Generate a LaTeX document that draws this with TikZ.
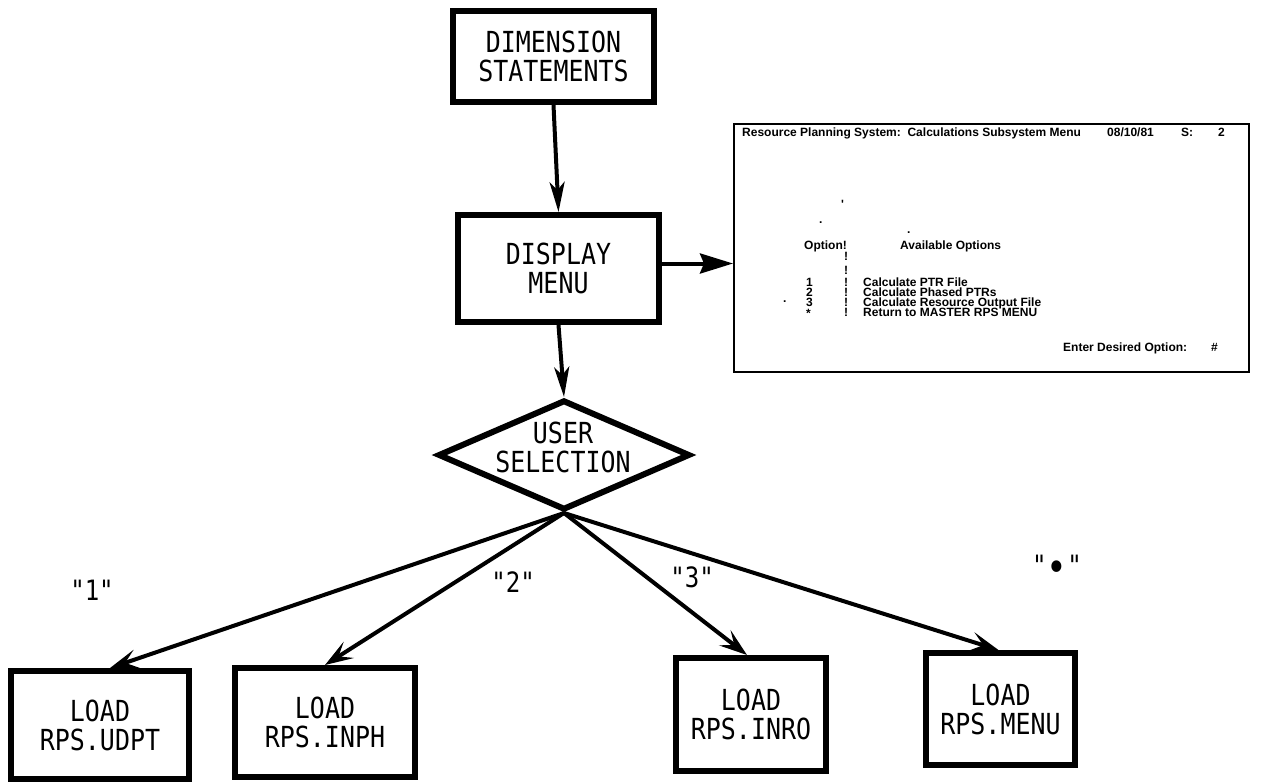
\documentclass[tikz,border=0pt]{standalone}
\usepackage{fontspec}
\usetikzlibrary{arrows.meta,shapes.geometric}
\newfontfamily\gfont[FakeStretch=0.86]{DejaVu Sans Mono}
\newfontfamily\scrfont{Liberation Sans}
\begin{document}
\begin{tikzpicture}[x=1pt,y=-1pt,
  boxn/.style={draw, line width=6pt, rectangle, inner sep=0pt, align=center,
    font=\gfont\fontsize{29}{29}\selectfont},
  diam/.style={draw, line width=6pt, diamond, aspect=2.3, inner sep=0pt,
    minimum width=252pt, minimum height=110pt},
  gtext/.style={inner sep=0pt, align=center, font=\gfont\fontsize{29}{29}\selectfont},
  lab/.style={inner sep=0pt, font=\gfont\fontsize{28}{28}\selectfont},
  scr/.style={inner sep=0pt, anchor=west, text height=8.5pt, text depth=0pt,
    font=\scrfont\bfseries\fontsize{12}{12}\selectfont},
  varr/.style={line width=4pt, -{Stealth[length=30pt,width=15pt,inset=8pt]}},
  darr/.style={line width=4pt, -{Stealth[length=28pt,width=19pt,inset=12pt]}},
  farr/.style={line width=4pt, -{Stealth[length=33pt,width=20pt,inset=4pt]}}
]
\fill[white] (0,0) rectangle (1263,784);
\useasboundingbox (0,0) rectangle (1263,784);

% main boxes
\node[boxn, minimum width=201pt, minimum height=91pt] (dim) at (553.5,56.5) {DIMENSION\\STATEMENTS};
\node[boxn, minimum width=201pt, minimum height=107pt] (disp) at (558.5,268.5) {DISPLAY\\MENU};
\node[diam] (sel) at (564,455) {};
\node[gtext] (seltext) at (563,447) {USER\\SELECTION};

% screen
\node[draw, line width=2pt, rectangle, inner sep=0pt, minimum width=515pt, minimum height=248pt] (screen) at (991.5,248) {};
\node[scr] (t1) at (742,132) {Resource Planning System:\ \ Calculations Subsystem Menu};
\node[scr] (t2) at (1107,132) {08/10/81};
\node[scr] (t3) at (1181,132) {S:};
\node[scr] (t4) at (1218,132) {2};
\node[scr] (m1) at (841,204) {'};
\node[scr] (m2) at (819,219) {.};
\node[scr] (m3) at (907,229) {.};
\node[scr] (h1) at (804,245) {Option!};
\node[scr] (h2) at (900,245) {Available Options};
\node[scr] (s1) at (844,256) {!};
\node[scr] (s2) at (844,270) {!};
\node[scr] (n1) at (806,282) {1};
\node[scr] (b1) at (844,282) {!};
\node[scr] (o1) at (863,282) {Calculate PTR File};
\node[scr] (n2) at (806,292) {2};
\node[scr] (b2) at (844,292) {!};
\node[scr] (o2) at (863,292) {Calculate Phased PTRs};
\node[scr] (m4) at (783,298) {.};
\node[scr] (n3) at (806,302) {3};
\node[scr] (b3) at (844,302) {!};
\node[scr] (o3) at (863,302) {Calculate Resource Output File};
\node[scr] (n4) at (806,313) {*};
\node[scr] (b4) at (844,312) {!};
\node[scr] (o4) at (863,312) {Return to MASTER RPS MENU};
\node[scr] (e1) at (1063,347) {Enter Desired Option:};
\node[scr] (e2) at (1211,347) {\#};

% bottom boxes
\node[boxn, minimum width=178pt, minimum height=108pt] (udpt) at (100,725) {LOAD\\RPS.UDPT};
\node[boxn, minimum width=180pt, minimum height=109pt] (inph) at (325,722.5) {LOAD\\RPS.INPH};
\node[boxn, minimum width=150pt, minimum height=113pt] (inro) at (751,714.5) {LOAD\\RPS.INRO};
\node[boxn, minimum width=149pt, minimum height=112pt] (menu) at (1000.5,709) {LOAD\\RPS.MENU};

% labels
\node[lab] (l1) at (92,590) {"1"};
\node[lab] (l2) at (513,582) {"2"};
\node[lab] (l3) at (692,577) {"3"};
\node[lab] (l4) at (1057,568) {"\raisebox{-6pt}{\fontsize{40}{40}\selectfont •}"};

% connectors
\draw[varr] (dim.south) -- (disp.north);
\draw[varr] (disp.south) -- (sel.north);
\draw[farr] ([yshift=5pt]disp.east) -- ([yshift=5pt]disp.east -| screen.west);
\draw[darr] (sel.south) -- ([xshift=10pt]udpt.north);
\draw[darr] (sel.south) -- (inph.north);
\draw[darr] (sel.south) -- ([xshift=-4pt]inro.north);
\draw[darr] (sel.south) -- ([xshift=-2pt]menu.north);
\end{tikzpicture}
\end{document}
